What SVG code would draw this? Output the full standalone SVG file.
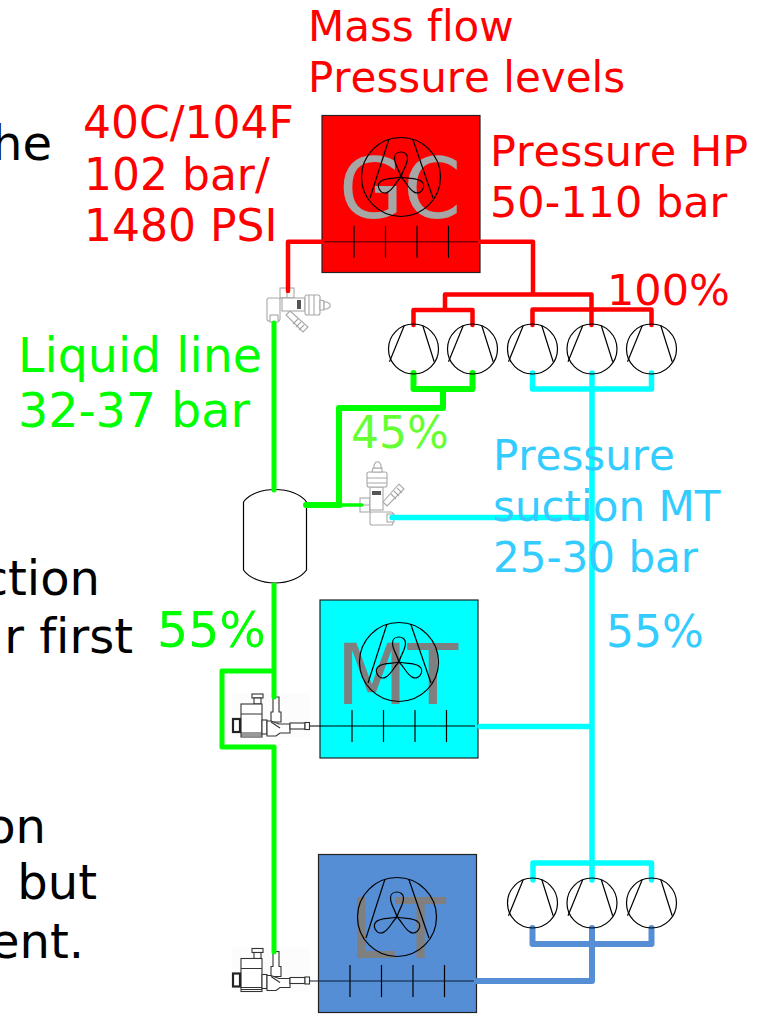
<svg xmlns="http://www.w3.org/2000/svg" width="766" height="1016" viewBox="0 0 766 1016">
<style>
text{font-family:"DejaVu Sans",Verdana,sans-serif;font-size:42px;font-kerning:none;font-variant-ligatures:none}
.r{fill:#ff0000}.g{fill:#00ff00}.lg{fill:#66ff33}.c{fill:#33ccff}.k{fill:#000}
.s43{font-size:43px}.s44{font-size:44px}.s475{font-size:47.500px}.s48{font-size:48px}.s49{font-size:49px}
.big{font-size:83px}
.thin{fill:none;stroke:#000;stroke-width:1.200}
.box{stroke:#222;stroke-width:1.200}
.pipe{fill:none;stroke-linejoin:round;stroke-linecap:round}
.red{stroke:#ff0000;stroke-width:4.500}
.grn{stroke:#00ff00;stroke-width:5}
.cy{stroke:#00ffff;stroke-width:5.500}
.bl{stroke:#558ed5;stroke-width:6}
.vg{fill:#fff;stroke:#a8a8a8;stroke-width:1.100}
.vk{fill:#fff;stroke:#333;stroke-width:1.100}
</style>
<defs>
<g id="fan" class="thin">
<circle r="39.500"/>
<path d="M-12-38L-31 21M11.700-38L32 21"/>
<path d="M0 0C-2-8-6.500-12-6.500-19C-6.500-27 6.500-27 6.500-19C6.500-12 2-8 0 0Z"/>
<path d="M0 0C-2-8-6.500-12-6.500-19C-6.500-27 6.500-27 6.500-19C6.500-12 2-8 0 0Z" transform="rotate(120)"/>
<path d="M0 0C-2-8-6.500-12-6.500-19C-6.500-27 6.500-27 6.500-19C6.500-12 2-8 0 0Z" transform="rotate(-120)"/>
</g>
<g id="comp" class="thin">
<circle r="25"/>
<path d="M-9.300-23.300L-24 12.700M9.300-23.300L20.700 12.700"/>
</g>
<g id="ticks" class="thin">
<path d="M0-16V16M31.500-16V16M63-16V16M94.500-16V16"/>
</g>
<g id="exv">
<path class="vg" d="M2 6L20 22L15 27L-2 10Z"/>
<path class="vg" d="M10 14l-5 5M13 17l-5 5M16 20l-5 5"/>
<rect class="vg" x="-21" y="-7" width="13" height="23" rx="2"/>
<rect class="vg" x="-18" y="10" width="8" height="7"/>
<rect class="vg" x="-8" y="-17" width="14" height="10"/>
<path class="vg" d="M-8 -7H5M-1-17V-7"/>
<rect class="vg" x="-6" y="-7" width="23" height="13"/>
<rect x="9" y="-5" width="4" height="9" fill="#555"/>
<rect class="vg" x="17" y="-10" width="15" height="20" rx="2"/>
<path class="vg" d="M21-10V10M26-10V10"/>
<path class="vg" d="M32-5L36-4V5L32 5Z"/>
<path class="vg" d="M36-3H39L42-1V2L39 4H36Z"/>
</g>
<g id="sol">
<rect x="232" y="693" width="78" height="44" fill="#fcfcfc"/>
<rect class="vk" x="252" y="694" width="11" height="4"/>
<rect class="vk" x="254" y="698" width="7" height="6"/>
<rect class="vk" x="241" y="704" width="21" height="33"/>
<path class="vk" d="M241 714H262M241 733H262M241 735H262"/>
<rect x="233" y="719" width="7" height="13" fill="#fff" stroke="#222" stroke-width="2.200"/>
<rect class="vk" x="262" y="720" width="5" height="14"/>
<path class="vk" d="M273 697H279V712H281V722H271V712H273Z"/>
<path class="vk" d="M267 721H271L279 724H290V733H280L276 736H267Z"/>
<path class="vk" d="M271 722L280 728" style="fill:none"/>
<rect class="vk" x="290" y="723" width="15" height="6"/>
<rect class="vk" x="305" y="722.500" width="4.500" height="7"/>
</g>
</defs>
<rect width="766" height="1016" fill="#fff"/>

<g id="node-gc">
<rect class="box" x="322" y="115.500" width="158" height="157" fill="#ff0000"/>
<text class="big" x="339" y="218" fill="#a6a6a6">GC</text>
<use href="#fan" x="401" y="177"/>
<path d="M324 241.700H478" stroke="#800000" stroke-width="1.500"/>
<use href="#ticks" x="354" y="241.700"/>
</g>
<g id="node-mt">
<rect class="box" x="320" y="600" width="158" height="158" fill="#00ffff"/>
<text class="big" x="336" y="704" fill="#7f7f7f">MT</text>
<use href="#fan" x="399" y="662"/>
<use href="#ticks" x="352" y="726"/>
</g>
<g id="node-lt">
<rect class="box" x="318.500" y="854.500" width="158" height="158" fill="#558ed5"/>
<text class="big" x="349" y="958" fill="#7f7f7f">LT</text>
<use href="#fan" x="397" y="917"/>
<use href="#ticks" x="350" y="981"/>
</g>

<g id="node-valve-hp"><use href="#exv" x="288" y="305"/></g>
<g id="node-valve-mt"><use href="#exv" transform="translate(377 504) rotate(-90)"/></g>
<g id="node-valve-liquid-mt"><use href="#sol"/></g>
<g id="node-valve-liquid-lt"><use href="#sol" y="254.500"/></g>

<g id="node-receiver">
<path d="M243.500 502C249 494 262 489.500 275 489.500C288 489.500 301 494 306.500 502V570C301 578 288 583 275 583C262 583 249 578 243.500 570Z" fill="#fff" stroke="#000" stroke-width="1.200"/>
</g>

<g id="connectors">
<path class="pipe red" d="M322 241.700H288V291M480 241.700H533V294.500M445 294.500H591.500M445 294.500V309.500M413.500 325V310H472.500V325M532.500 325V309.500H651.500V325M591.500 294.500V325"/>
<path class="pipe grn" d="M274 323V490M274 585V697M274 671H222V747H274V952"/>
<path class="pipe grn" style="stroke-width:6" d="M413.500 373V389H472.500V373M443 389V408H339V505"/>
<path class="pipe grn" style="stroke-width:6" d="M306 505H340"/>
<path class="pipe grn" style="stroke-width:3.500" d="M340 505H362"/>
<path class="pipe cy" d="M532.500 373V389H651.500V373M592 373V880M533 880V863H651.500V880M480 726.500H592M392 517.500H592"/>
<path class="pipe bl" d="M532.500 928V944H651.500V928M592 928V981H477"/>
<path d="M310 726H475" stroke="#000" stroke-width="1.200"/>
<path d="M310 981H474" stroke="#0e1c30" stroke-width="1.200"/>
</g>

<g id="node-comp-1"><use href="#comp" x="413.500" y="349"/></g>
<g id="node-comp-2"><use href="#comp" x="472.500" y="349"/></g>
<g id="node-comp-3"><use href="#comp" x="532.500" y="349"/></g>
<g id="node-comp-4"><use href="#comp" x="592" y="349"/></g>
<g id="node-comp-5"><use href="#comp" x="651.500" y="349"/></g>
<g id="node-comp-6"><use href="#comp" x="532.500" y="903"/></g>
<g id="node-comp-7"><use href="#comp" x="592" y="903"/></g>
<g id="node-comp-8"><use href="#comp" x="651.500" y="903"/></g>

<g id="labels">
<text class="r" x="308" y="41">Mass flow</text>
<text class="r" x="308" y="92">Pressure levels</text>
<text class="r s44" x="83" y="138">40C/104F</text>
<text class="r s44" x="84" y="190">102 bar/</text>
<text class="r s44" x="84" y="241">1480 PSI</text>
<text class="r s43" x="490" y="166">Pressure HP</text>
<text class="r s43" x="490" y="217">50-110 bar</text>
<text class="r s43" x="607" y="305">100%</text>
<text class="g s475" x="18" y="372">Liquid line</text>
<text class="g s475" x="18" y="427">32-37 bar</text>
<text class="lg s44" x="351" y="448">45%</text>
<text class="c" x="493" y="470">Pressure</text>
<text class="c" x="493" y="521">suction MT</text>
<text class="c" x="493" y="572">25-30 bar</text>
<text class="g s49" x="157" y="647">55%</text>
<text class="c s44" x="606" y="647">55%</text>
<text class="k s48" text-anchor="end" x="52" y="160">he</text>
<text class="k s48" text-anchor="end" x="100" y="595">ction</text>
<text class="k s48" text-anchor="end" x="133" y="653">r first</text>
<text class="k s48" text-anchor="end" x="46" y="843">on</text>
<text class="k s48" text-anchor="end" x="97" y="899">but</text>
<text class="k s48" text-anchor="end" x="84" y="958">ent.</text>
</g>
</svg>
